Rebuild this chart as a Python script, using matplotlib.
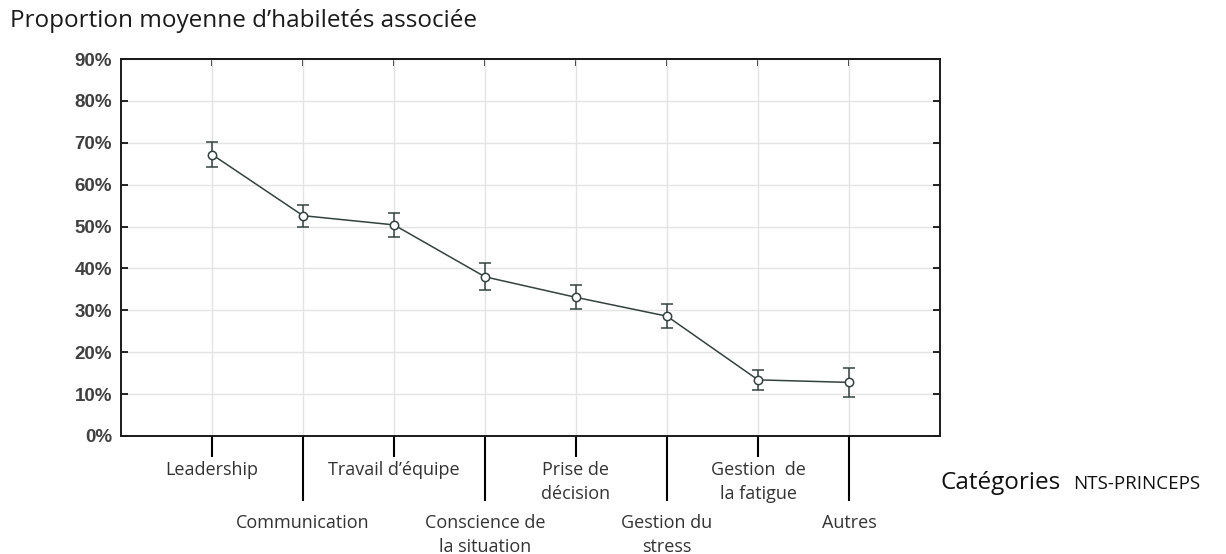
import numpy as np
import matplotlib.pyplot as plt
from matplotlib.ticker import FixedLocator, PercentFormatter

# donnees
categories = ['Leadership', 'Communication', "Travail d\u2019\u00e9quipe", 'Conscience de\nla situation',
              'Prise de\nd\u00e9cision', 'Gestion du\nstress', 'Gestion  de\nla fatigue', 'Autres']
moyennes = [67.2, 52.6, 50.4, 38.0, 33.1, 28.6, 13.4, 12.8]
err_bas = [3.0, 2.6, 2.8, 3.2, 2.9, 2.8, 2.4, 3.4]
err_haut = [3.0, 2.6, 2.8, 3.2, 2.9, 2.8, 2.4, 3.4]

x = np.arange(len(categories))
couleur = '#34423f'
police = ['Open Sans', 'DejaVu Sans']

fig = plt.figure(figsize=(12.26, 5.54), dpi=100)
ax = fig.add_axes([121/1226, 1-436/554, (940-121)/1226, (436-59)/554])

ax.errorbar(x, moyennes, yerr=[err_bas, err_haut], color=couleur, lw=1.1,
            marker='o', ms=6, mfc='white', mec=couleur, mew=1.1,
            capsize=4, elinewidth=1.1, capthick=1.1, zorder=3)

ax.set_xlim(-1, len(categories))
ax.set_ylim(0, 90)
ax.yaxis.set_major_locator(FixedLocator(np.arange(0, 91, 10)))
ax.yaxis.set_major_formatter(PercentFormatter(decimals=0))
ax.grid(True, color='#e4e4e4', lw=1)
ax.set_axisbelow(True)

# ticks alternes courts / longs
ax.xaxis.set_major_locator(FixedLocator(x[::2]))
ax.xaxis.set_minor_locator(FixedLocator(x[1::2]))
ax.set_xticklabels(categories[::2])
ax.set_xticklabels(categories[1::2], minor=True)
ax.grid(True, which='minor', axis='x', color='#e4e4e4', lw=1)
ax.tick_params(axis='x', which='major', length=15, width=1.5, direction='out', pad=3,
               labelcolor='#333333')
ax.tick_params(axis='x', which='minor', length=47, width=1.5, direction='out', pad=9,
               labelcolor='#333333')
for lab in ax.get_xticklabels(which='both'):
    lab.set_family(police)
    lab.set_fontsize(13)
    lab.set_linespacing(1.45)

ax.tick_params(axis='y', direction='in', left=True, right=True, length=5, width=1.2,
               pad=6.5, labelcolor='#404040')
for lab in ax.get_yticklabels():
    lab.set_family(['Liberation Sans', 'DejaVu Sans'])
    lab.set_fontweight('bold')
    lab.set_fontsize(13.5)

haut = ax.secondary_xaxis('top')
haut.set_xticks(x)
haut.set_xticklabels([])
haut.tick_params(direction='in', length=5, width=1.2)

for s in ax.spines.values():
    s.set_linewidth(1.4)
    s.set_color('#1a1a1a')
haut.spines['top'].set_linewidth(1.4)

fig.text(10/1226, 1-21/554, "Proportion moyenne d\u2019habilet\u00e9s associ\u00e9e", fontsize=17.5,
         family=police, color='#1a1a1a', va='center', ha='left')
fig.text(940/1226, 1-483/554, 'Cat\u00e9gories', fontsize=17.5,
         family=police, color='#111111', va='center', ha='left')
fig.text(1073/1226, 1-484/554, 'NTS-PRINCEPS', fontsize=13.5,
         family=police, color='#111111', va='center', ha='left')

fig.savefig('out.png', dpi=100, facecolor='white')
